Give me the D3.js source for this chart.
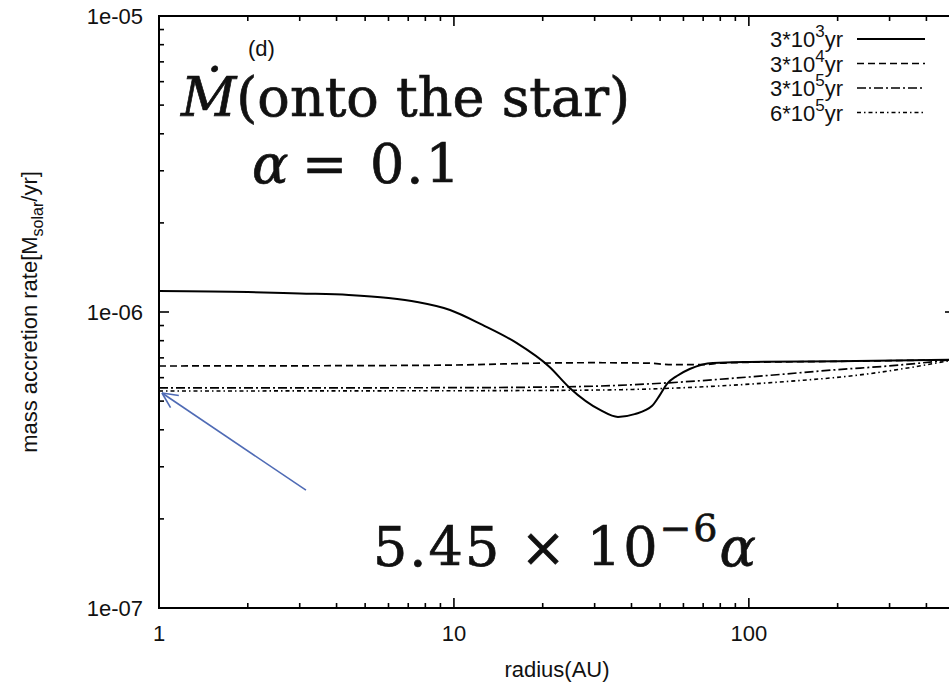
<!DOCTYPE html>
<html>
<head>
<meta charset="utf-8">
<script src="https://cdn.jsdelivr.net/npm/d3@7"></script>
<style>
  html, body { margin: 0; padding: 0; background: #fff; overflow: hidden; }
  svg text { font-family: "Liberation Sans", Arial, sans-serif; }
  .big { font-family: "DejaVu Serif", serif; fill: #111; stroke: #111; stroke-width: 0.7; }
</style>
</head>
<body>
<div id="chart"></div>
<script>
let w = 949; // window width
let h = 684; // window height

// radius in AU and mass accretion rate in Msolar/yr
const series = ["3*10^3yr", "3*10^4yr", "3*10^5yr", "6*10^5yr"];
const r3e3 = [1, 2, 3, 4.4, 6, 7.5, 9.7, 12.5, 16.3, 21.1, 24.7, 31.3, 36, 41, 46.9, 49.9, 52.7, 57, 63, 75.5, 100, 200, 500];
const v3e3 = [1.177e-6, 1.168e-6, 1.155e-6, 1.142e-6, 1.115e-6, 1.081e-6, 1.016e-6, 0.904e-6, 0.786e-6, 0.652e-6, 0.554e-6, 0.467e-6, 0.442e-6, 0.452e-6, 0.481e-6, 0.524e-6, 0.571e-6, 0.608e-6, 0.642e-6, 0.673e-6, 0.678e-6, 0.682e-6, 0.69e-6];
const r3e4 = [1, 5, 10, 20, 30, 45, 55, 70, 80, 100, 200, 500];
const v3e4 = [0.657e-6, 0.659e-6, 0.662e-6, 0.672e-6, 0.674e-6, 0.672e-6, 0.664e-6, 0.664e-6, 0.672e-6, 0.676e-6, 0.681e-6, 0.69e-6];
const r3e5 = [1, 10, 21, 31, 52.7, 100, 193, 325, 500];
const v3e5 = [0.554e-6, 0.555e-6, 0.558e-6, 0.562e-6, 0.576e-6, 0.603e-6, 0.637e-6, 0.662e-6, 0.692e-6];
const r6e5 = [1, 10, 31, 68, 127, 238, 500];
const v6e5 = [0.541e-6, 0.542e-6, 0.545e-6, 0.558e-6, 0.58e-6, 0.613e-6, 0.69e-6];

const xMajor = [1, 10, 100];
const xLabels = ["1", "10", "100"];
const yMajor = [1e-7, 1e-6, 1e-5];
const yLabels = ["1e-07", "1e-06", "1e-05"];

// arrow annotation: tip at 5.45e-6*alpha (alpha = 0.1) at r = 1
const arrowTip = [1, 5.45e-7];
const arrowTail = [3.15, 2.5e-7];

let svg = d3.select("#chart")
    .append("svg")
    .attr("width", w)
    .attr("height", h);

// plot frame runs past the right edge of the window (cropped like the original)
let x = d3.scaleLog().domain([1, 500]).range([159, 955]);
let y = d3.scaleLog().domain([1e-7, 1e-5]).range([608, 16]);

let xMinor = [];
[1, 10, 100].forEach(d => { for (let k = 2; k < 10; k++) if (d * k <= 500) xMinor.push(d * k); });
let yMinor = [];
[1e-7, 1e-6].forEach(d => { for (let k = 2; k < 10; k++) yMinor.push(d * k); });

const x0 = x.range()[0], x1 = x.range()[1], y0 = y.range()[0], y1 = y.range()[1];

// tick labels
svg.append("g").selectAll("text").data(xMajor).enter().append("text")
    .attr("x", d => x(d)).attr("y", y0 + 33)
    .attr("text-anchor", "middle")
    .attr("font-size", 22).attr("fill", "#111")
    .text((d, i) => xLabels[i]);
svg.append("g").selectAll("text").data(yMajor).enter().append("text")
    .attr("x", x0 - 16).attr("y", d => y(d) + 8)
    .attr("text-anchor", "end")
    .attr("font-size", 22).attr("fill", "#111")
    .text((d, i) => yLabels[i]);

// frame
svg.append("rect")
    .attr("x", x0).attr("y", y1)
    .attr("width", x1 - x0).attr("height", y0 - y1)
    .attr("fill", "none").attr("stroke", "#000").attr("stroke-width", 2);

// tick marks on all four sides, pointing inwards
let ticks = svg.append("g").attr("stroke", "#000").attr("stroke-width", 1.6);
let xt = xMajor.map(v => ({ v: v, len: 10 })).concat(xMinor.map(v => ({ v: v, len: 5 })));
let ytk = yMajor.map(v => ({ v: v, len: 10 })).concat(yMinor.map(v => ({ v: v, len: 5 })));
[[y0, -1], [y1, 1]].forEach(([base, dir]) => {
    ticks.selectAll(null).data(xt).enter().append("line")
        .attr("x1", d => x(d.v)).attr("x2", d => x(d.v))
        .attr("y1", base).attr("y2", d => base + dir * d.len);
});
[[x0, 1], [x1, -1]].forEach(([base, dir]) => {
    ticks.selectAll(null).data(ytk).enter().append("line")
        .attr("y1", d => y(d.v)).attr("y2", d => y(d.v))
        .attr("x1", base).attr("x2", d => base + dir * d.len);
});

// curves
svg.append("clipPath").attr("id", "clip").append("rect")
    .attr("x", x0).attr("y", y1)
    .attr("width", x1 - x0).attr("height", y0 - y1);

let line = d3.line()
    .x(d => x(d[0]))
    .y(d => y(d[1]))
    .curve(d3.curveMonotoneX);

const styles = [
    { r: r3e3, v: v3e3, dash: null, width: 2 },
    { r: r3e4, v: v3e4, dash: "7,4", width: 1.7 },
    { r: r3e5, v: v3e5, dash: "9,3,2,3", width: 1.7 },
    { r: r6e5, v: v6e5, dash: "4,3,1.5,3", width: 1.6 }
];

let plot = svg.append("g").attr("clip-path", "url(#clip)");
styles.forEach(s => {
    plot.append("path")
        .datum(s.r.map((r, i) => [r, s.v[i]]))
        .attr("d", line)
        .attr("fill", "none")
        .attr("stroke", "#000")
        .attr("stroke-width", s.width)
        .attr("stroke-dasharray", s.dash);
});

// legend
let legend = svg.append("g");
series.forEach((name, i) => {
    let yy = 39 + i * 24.5;
    let parts = name.split("^");
    let t = legend.append("text")
        .attr("x", 843).attr("y", yy + 8)
        .attr("text-anchor", "end")
        .attr("font-size", 22).attr("fill", "#111");
    t.append("tspan").text(parts[0]);
    t.append("tspan").attr("dy", -10).attr("font-size", 17).text(parts[1][0]);
    t.append("tspan").attr("dy", 10).text(parts[1].slice(1));
    legend.append("line")
        .attr("x1", 857).attr("x2", 925)
        .attr("y1", yy).attr("y2", yy)
        .attr("stroke", "#000")
        .attr("stroke-width", styles[i].width)
        .attr("stroke-dasharray", styles[i].dash);
});

// axis titles
svg.append("text")
    .attr("x", (x0 + x1) / 2).attr("y", 677)
    .attr("text-anchor", "middle")
    .attr("font-size", 22).attr("fill", "#111")
    .text("radius(AU)");

let yt = svg.append("text")
    .attr("transform", "translate(37," + (y0 + y1) / 2 + ") rotate(-90)")
    .attr("text-anchor", "middle")
    .attr("font-size", 22).attr("fill", "#111");
yt.append("tspan").text("mass accretion rate[M");
yt.append("tspan").attr("dy", 6).attr("font-size", 16).text("solar");
yt.append("tspan").attr("dy", -6).text("/yr]");

// annotations
svg.append("text")
    .attr("x", 248).attr("y", 56)
    .attr("font-size", 22).attr("fill", "#111")
    .text("(d)");

let t1 = svg.append("text").attr("class", "big")
    .attr("x", 181).attr("y", 116)
    .attr("font-size", 54);
t1.append("tspan").attr("font-style", "italic").text("\u1E40");
t1.append("tspan").text("(onto the star)");

let t2 = svg.append("text").attr("class", "big")
    .attr("y", 183)
    .attr("font-size", 54);
t2.append("tspan").attr("x", 252).attr("font-style", "italic").text("\u03B1");
t2.append("tspan").attr("x", 302).text("=");
t2.append("tspan").attr("x", 370).attr("letter-spacing", 2).text("0.1");

let t3 = svg.append("text").attr("class", "big")
    .attr("x", 373).attr("y", 566)
    .attr("font-size", 54).attr("letter-spacing", 2);
t3.append("tspan").text("5.45 \u00D7 10");
t3.append("tspan").attr("dy", -25).attr("font-size", 38).text("\u22126");
t3.append("tspan").attr("dy", 25).attr("font-style", "italic").text("\u03B1");

// blue arrow
let ax1 = x(arrowTail[0]), ay1 = y(arrowTail[1]);
let ax2 = x(arrowTip[0]) + 3, ay2 = y(arrowTip[1]) + 3;
let ang = Math.atan2(ay2 - ay1, ax2 - ax1);
let arrow = svg.append("g").attr("stroke", "#4f6bb5").attr("stroke-width", 1.6).attr("fill", "none");
arrow.append("line").attr("x1", ax1).attr("y1", ay1).attr("x2", ax2).attr("y2", ay2);
[0.45, -0.45].forEach(a => {
    arrow.append("line")
        .attr("x1", ax2).attr("y1", ay2)
        .attr("x2", ax2 - 17 * Math.cos(ang + a))
        .attr("y2", ay2 - 17 * Math.sin(ang + a));
});
</script>
</body>
</html>
